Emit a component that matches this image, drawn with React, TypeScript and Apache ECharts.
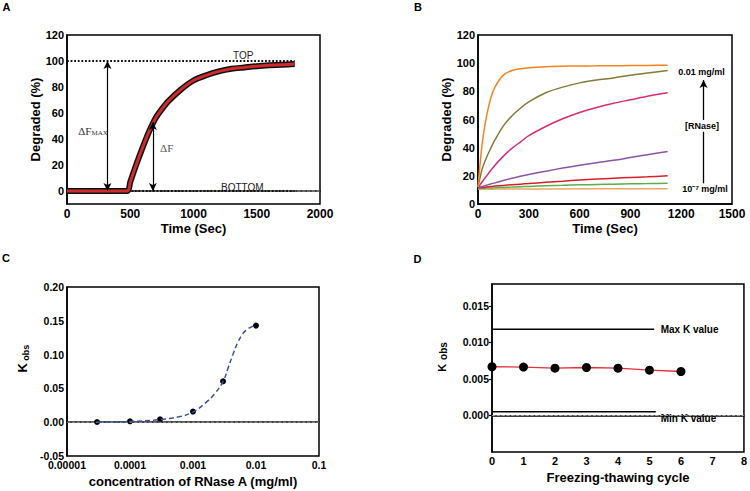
import React, { useEffect, useRef } from "react";
import * as echarts from "echarts";

const FONT = "'Liberation Sans', Arial, Helvetica, sans-serif";
const SERIF = "'Liberation Serif', 'Times New Roman', serif";

// ---------- Panel A ----------
const aTime = [0, 475, 500, 550, 600, 650, 700, 750, 800, 900, 1000, 1100, 1200, 1300, 1400, 1500, 1600, 1700, 1800];
const aDegraded = [0, 0, 7, 21, 34, 46, 56, 63, 69, 78, 85, 89, 92, 94, 95, 96, 96.7, 97.2, 97.6];
const aTopLevel = 100;
const aBottomLevel = 0;
const aCurveStart = 480;
const aCurveEnd = 1800;
const aDeltaMaxTime = 320;
const aDeltaTime = 679;
const aDeltaTop = 53;

// ---------- Panel B ----------
const bTime = [0, 25, 50, 75, 100, 150, 200, 250, 300, 400, 500, 600, 700, 800, 900, 1000, 1120];
const bOrange = [12, 43, 62, 75, 83, 91.5, 94.8, 96, 96.8, 97.5, 97.8, 98, 98.1, 98.2, 98.3, 98.4, 98.5];
const bOlive = [12, 25, 33, 39.5, 45.5, 55.5, 62.5, 68, 72.5, 79, 83, 86, 88, 89.5, 91.5, 93, 94.8];
const bMagenta = [11.5, 15.8, 19.8, 23.8, 27.6, 34, 39.5, 44, 48.5, 55, 60.5, 65, 68.5, 71.5, 74, 76.5, 79];
const bPurple = [11.5, 12.4, 13.3, 14.2, 15, 16.7, 18.3, 19.7, 21, 23.3, 25.5, 27.5, 29.3, 31, 33, 35, 37.3];
const bRed = [11.5, 11.8, 12.1, 12.4, 12.7, 13.2, 13.7, 14.1, 14.5, 15.4, 16.2, 17, 17.7, 18.3, 18.8, 19.3, 20];
const bGreen = [11, 11.1, 11.3, 11.4, 11.5, 11.8, 12, 12.3, 12.5, 13, 13.3, 13.6, 13.9, 14.1, 14.3, 14.5, 14.8];
const bTan = [10.5, 10.5, 10.5, 10.5, 10.6, 10.6, 10.6, 10.6, 10.7, 10.7, 10.7, 10.8, 10.8, 10.8, 10.8, 10.9, 10.9];
const bArrowTime = 1332;

// ---------- Panel C ----------
const cConc = [3e-5, 1e-4, 3e-4, 1e-3, 3e-3, 1e-2];
const cKobs = [0.0003, 0.0013, 0.0043, 0.0157, 0.0605, 0.1429];
const cFitConc = [3e-5, 1e-4, 3e-4, 6e-4, 1e-3, 1.6e-3, 2.2e-3, 3e-3, 3.6e-3, 4.3e-3, 5.2e-3, 6.2e-3, 7.2e-3, 8.5e-3, 1e-2];
const cFitKobs = [0, 0.001, 0.004, 0.008, 0.015, 0.029, 0.042, 0.06, 0.08, 0.1, 0.119, 0.131, 0.137, 0.141, 0.143];

// ---------- Panel D ----------
const dCycle = [0, 1, 2, 3, 4, 5, 6];
const dKobs = [0.00667, 0.00662, 0.00648, 0.00657, 0.00648, 0.0062, 0.00602];
const dMaxK = 0.0118;
const dMinK = 0.0005;
const dMaxEnd = 5.15;
const dMinEnd = 5.2;

const zip = (xs: number[], ys: number[]) => xs.map((x, i) => [x, ys[i]]);

const tickLabel = (size: number) => ({
  fontFamily: FONT,
  fontWeight: "bold" as const,
  fontSize: size,
  color: "#000",
});

const axisLine = { show: true, lineStyle: { color: "#000", width: 1.5 } };
const plain = (v: number) => String(v);
const baseline = { color: "#bbb", width: 0.8, type: "dashed" };

export default function App() {
  const ref = useRef<HTMLDivElement>(null);
  useEffect(() => {
    if (!ref.current) return;
    const chart = echarts.init(ref.current, undefined, { renderer: "svg" });

    const gridBase = { show: true, borderColor: "#000", borderWidth: 1.5, backgroundColor: "transparent" };
    const nameStyle = { fontFamily: FONT, fontWeight: "bold" as const, fontSize: 13, color: "#000" };

    const bSeries = [
      { data: bTan, color: "#e8a868" },
      { data: bGreen, color: "#5cae48" },
      { data: bRed, color: "#d8202c" },
      { data: bPurple, color: "#8a55a8" },
      { data: bMagenta, color: "#dc2a78" },
      { data: bOlive, color: "#857a3a" },
      { data: bOrange, color: "#f5831f" },
    ].map((s) => ({
      type: "line",
      xAxisIndex: 1,
      yAxisIndex: 1,
      data: zip(bTime, s.data),
      symbol: "none",
      smooth: 0.3,
      lineStyle: { color: s.color, width: 1.5 },
      silent: true,
    }));

    const logFmt = (v: number) => {
      const e = Math.round(Math.log10(v));
      return e >= 0 ? String(Math.round(v)) : v.toFixed(-e);
    };

    const option: any = {
      animation: false,
      textStyle: { fontFamily: FONT },
      grid: [
        { ...gridBase, left: 67, top: 35, width: 253, height: 169 },
        { ...gridBase, left: 478, top: 35, width: 254, height: 169 },
        { ...gridBase, left: 67, top: 287, width: 252, height: 169 },
        { ...gridBase, left: 492, top: 284, width: 254, height: 168 },
      ],
      xAxis: [
        {
          gridIndex: 0, type: "value", min: 0, max: 2000, interval: 500,
          axisLine, axisTick: { show: false }, splitLine: { show: false },
          axisLabel: { ...tickLabel(12), margin: 4, formatter: plain },
          name: "Time (Sec)", nameLocation: "middle", nameGap: 18, nameTextStyle: nameStyle,
        },
        {
          gridIndex: 1, type: "value", min: 0, max: 1500, interval: 300,
          axisLine, axisTick: { show: false }, splitLine: { show: false },
          axisLabel: { ...tickLabel(12), margin: 4, formatter: plain },
          name: "Time (Sec)", nameLocation: "middle", nameGap: 18, nameTextStyle: nameStyle,
        },
        {
          gridIndex: 2, type: "log", logBase: 10, min: 1e-5, max: 0.1,
          axisLine, axisTick: { show: false }, splitLine: { show: false }, minorTick: { show: false },
          axisLabel: { ...tickLabel(10.5), margin: 3, formatter: logFmt },
          name: "concentration of RNase A (mg/ml)", nameLocation: "middle", nameGap: 19, nameTextStyle: nameStyle,
        },
        {
          gridIndex: 3, type: "value", min: 0, max: 8, interval: 1,
          axisLine, axisTick: { show: false }, splitLine: { show: false },
          axisLabel: { ...tickLabel(11), margin: 3 },
          name: "Freezing-thawing cycle", nameLocation: "middle", nameGap: 19, nameTextStyle: nameStyle,
        },
      ],
      yAxis: [
        {
          gridIndex: 0, type: "value", min: -10, max: 120,
          axisLine, axisTick: { show: false }, splitLine: { show: false },
          axisLabel: { ...tickLabel(11), margin: 3, customValues: [0, 20, 40, 60, 80, 100, 120] },
          name: "Degraded (%)", nameLocation: "middle", nameGap: 20, nameTextStyle: nameStyle,
        },
        {
          gridIndex: 1, type: "value", min: 0, max: 120, interval: 20,
          axisLine, axisTick: { show: false }, splitLine: { show: false },
          axisLabel: { ...tickLabel(11), margin: 3 },
          name: "Degraded (%)", nameLocation: "middle", nameGap: 22, nameTextStyle: nameStyle,
        },
        {
          gridIndex: 2, type: "value", min: -0.05, max: 0.2, interval: 0.05,
          axisLine, axisTick: { show: false }, splitLine: { show: false },
          axisLabel: { ...tickLabel(10.5), margin: 3, formatter: (v: number) => v.toFixed(2) },
        },
        {
          gridIndex: 3, type: "value", min: -0.005, max: 0.018,
          axisLine, splitLine: { show: false },
          axisTick: { show: true, length: 3, inside: false, lineStyle: { color: "#000", width: 1.2 }, customValues: [0, 0.005, 0.01, 0.015] },
          axisLabel: { ...tickLabel(10.5), margin: 3, customValues: [0, 0.005, 0.01, 0.015], formatter: (v: number) => v.toFixed(3) },
        },
      ],
      series: [
        // Panel A
        {
          type: "line", xAxisIndex: 0, yAxisIndex: 0, symbol: "none", silent: true,
          data: [[0, 0], [2000, 0]],
          lineStyle: baseline,
        },
        {
          type: "line", xAxisIndex: 0, yAxisIndex: 0, symbol: "none", silent: true,
          data: [[0, aTopLevel], [aCurveEnd, aTopLevel]],
          lineStyle: { color: "#111", width: 1.8, type: "dotted" },
        },
        {
          type: "line", xAxisIndex: 0, yAxisIndex: 0, symbol: "none", silent: true,
          data: [[aCurveStart, aBottomLevel], [aCurveEnd, aBottomLevel]],
          lineStyle: { color: "#111", width: 1.8, type: "dotted" },
        },
        {
          type: "line", xAxisIndex: 0, yAxisIndex: 0, symbol: "none", silent: true, smooth: 0.3,
          data: zip(aTime, aDegraded),
          lineStyle: { color: "#111", width: 6 },
        },
        {
          type: "line", xAxisIndex: 0, yAxisIndex: 0, symbol: "none", silent: true, smooth: 0.3,
          data: zip(aTime, aDegraded),
          lineStyle: { color: "#cf2a2c", width: 3 },
          markLine: {
            silent: true,
            symbol: ["arrow", "arrow"],
            symbolSize: [6, 8],
            label: { show: false },
            lineStyle: { color: "#000", width: 1.2, type: "solid" },
            data: [
              [{ coord: [aDeltaMaxTime, aBottomLevel] }, { coord: [aDeltaMaxTime, aTopLevel] }],
              [{ coord: [aDeltaTime, aBottomLevel] }, { coord: [aDeltaTime, aDeltaTop] }],
            ],
          },
        },
        // Panel B
        ...bSeries,
        {
          type: "line", xAxisIndex: 1, yAxisIndex: 1, symbol: "none", silent: true, data: [],
          markLine: {
            silent: true,
            label: { show: false },
            lineStyle: { color: "#000", width: 1.3, type: "solid" },
            data: [
              [{ coord: [bArrowTime, 14.7], symbol: "none" }, { coord: [bArrowTime, 51.3], symbol: "none" }],
              [{ coord: [bArrowTime, 59.7], symbol: "none" }, { coord: [bArrowTime, 88], symbol: "arrow", symbolSize: [6, 8] }],
            ],
          },
        },
        // Panel C
        {
          type: "line", xAxisIndex: 2, yAxisIndex: 2, symbol: "none", silent: true,
          data: [[1e-5, 0], [0.1, 0]],
          lineStyle: baseline,
        },
        {
          type: "line", xAxisIndex: 2, yAxisIndex: 2, symbol: "none", silent: true, smooth: 0.4,
          data: zip(cFitConc, cFitKobs),
          lineStyle: { color: "#3a52a0", width: 1.5, type: [5, 3] },
        },
        {
          type: "scatter", xAxisIndex: 2, yAxisIndex: 2, silent: true,
          data: zip(cConc, cKobs), symbolSize: 6,
          itemStyle: { color: "#000", opacity: 1 },
        },
        // Panel D
        {
          type: "line", xAxisIndex: 3, yAxisIndex: 3, symbol: "none", silent: true,
          data: [[0, 0], [8, 0]],
          lineStyle: baseline,
        },
        {
          type: "line", xAxisIndex: 3, yAxisIndex: 3, symbol: "none", silent: true,
          data: [[0, dMaxK], [dMaxEnd, dMaxK]],
          lineStyle: { color: "#000", width: 1.5 },
        },
        {
          type: "line", xAxisIndex: 3, yAxisIndex: 3, symbol: "none", silent: true,
          data: [[0, dMinK], [dMinEnd, dMinK]],
          lineStyle: { color: "#000", width: 1.5 },
        },
        {
          type: "line", xAxisIndex: 3, yAxisIndex: 3, silent: true,
          data: zip(dCycle, dKobs),
          symbol: "circle", symbolSize: 9,
          itemStyle: { color: "#000", opacity: 1 },
          lineStyle: { color: "#e0303a", width: 1.3 },
        },
      ],
      graphic: [
        { type: "text", x: 6.5, y: 7, style: { text: "A", font: `bold 11px ${FONT}`, fill: "#000", align: "center", verticalAlign: "middle" } },
        { type: "text", x: 418, y: 7, style: { text: "B", font: `bold 11px ${FONT}`, fill: "#000", align: "center", verticalAlign: "middle" } },
        { type: "text", x: 6, y: 258, style: { text: "C", font: `bold 11px ${FONT}`, fill: "#000", align: "center", verticalAlign: "middle" } },
        { type: "text", x: 417.5, y: 259, style: { text: "D", font: `bold 11px ${FONT}`, fill: "#000", align: "center", verticalAlign: "middle" } },
        // Panel A annotations
        { type: "text", x: 243.3, y: 55, style: { text: "TOP", font: `10px ${FONT}`, fill: "#222", align: "center", verticalAlign: "middle" } },
        { type: "text", x: 242.3, y: 187.7, style: { text: "BOTTOM", font: `10px ${FONT}`, fill: "#222", align: "center", verticalAlign: "middle" } },
        { type: "text", x: 91.5, y: 131, style: { text: "ΔF", font: `11px ${SERIF}`, fill: "#333", align: "right", verticalAlign: "middle" } },
        { type: "text", x: 91.5, y: 133.3, style: { text: "MAX", font: `7px ${SERIF}`, fill: "#333", align: "left", verticalAlign: "middle" } },
        { type: "text", x: 166.7, y: 148.3, style: { text: "ΔF", font: `11px ${SERIF}`, fill: "#555", align: "center", verticalAlign: "middle" } },
        // Panel B annotations
        { type: "text", x: 701.5, y: 71.7, style: { text: "0.01 mg/ml", font: `bold 9px ${FONT}`, fill: "#000", align: "center", verticalAlign: "middle" } },
        { type: "text", x: 702, y: 126, style: { text: "[RNase]", font: `bold 9px ${FONT}`, fill: "#000", align: "center", verticalAlign: "middle" } },
        { type: "text", x: 705, y: 189.3, style: { text: "10⁻⁷ mg/ml", font: `bold 9px ${FONT}`, fill: "#000", align: "center", verticalAlign: "middle" } },
        // Panel C y-axis name
        { type: "text", x: 22.5, y: 367.7, rotation: Math.PI / 2, style: { text: "K", font: `bold 13px ${FONT}`, fill: "#000", align: "center", verticalAlign: "middle" } },
        { type: "text", x: 25.8, y: 352.8, rotation: Math.PI / 2, style: { text: "obs", font: `bold 9px ${FONT}`, fill: "#000", align: "center", verticalAlign: "middle" } },
        // Panel D y-axis name
        { type: "text", x: 441.7, y: 367.7, rotation: Math.PI / 2, style: { text: "K", font: `bold 11px ${FONT}`, fill: "#000", align: "center", verticalAlign: "middle" } },
        { type: "text", x: 443.5, y: 351, rotation: Math.PI / 2, style: { text: "obs", font: `bold 10px ${FONT}`, fill: "#000", align: "center", verticalAlign: "middle" } },
        // Panel D annotations
        { type: "text", x: 660.7, y: 329.3, style: { text: "Max K value", font: `bold 10px ${FONT}`, fill: "#000", align: "left", verticalAlign: "middle" } },
        { type: "text", x: 660.7, y: 418.7, style: { text: "Min K value", font: `bold 10px ${FONT}`, fill: "#000", align: "left", verticalAlign: "middle" } },
      ],
    };

    chart.setOption(option);
    return () => chart.dispose();
  }, []);

  return (
    <div style={{ position: "fixed", left: 0, top: 0, width: 750, height: 491, background: "#fff" }}>
      <div ref={ref} style={{ width: 750, height: 491 }} />
    </div>
  );
}
